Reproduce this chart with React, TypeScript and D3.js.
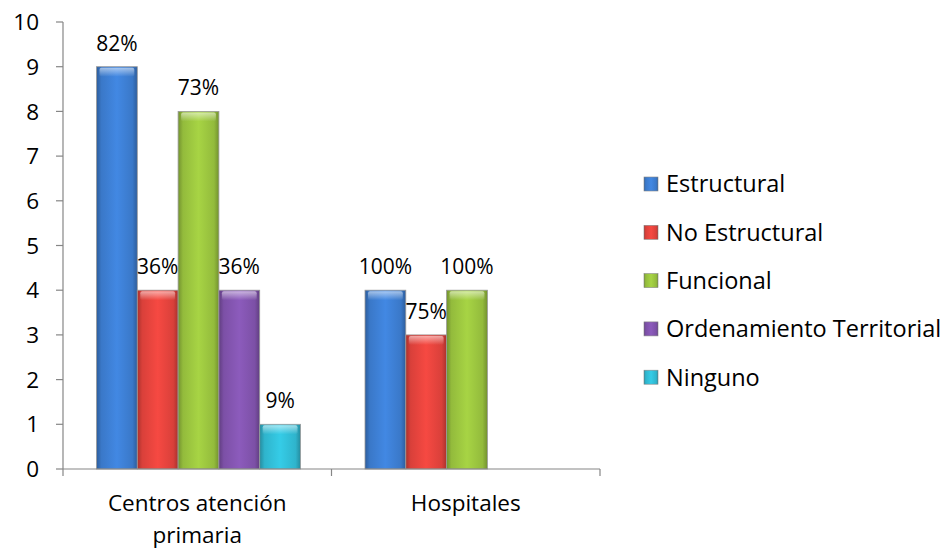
import React, { useMemo } from 'react';
import * as d3 from 'd3';

const W = 948;
const H = 550;
const FONT = '"Open Sans", "Liberation Sans", sans-serif';

const categories = ['Centros atención primaria', 'Hospitales'];
const categoryLines = [['Centros atención', 'primaria'], ['Hospitales']];
const series = ['Estructural', 'No Estructural', 'Funcional', 'Ordenamiento Territorial', 'Ninguno'];
const colors = ['#3a78c8', '#d9403a', '#93bb3c', '#7c50a6', '#2fb4cc'];

// counts per series, one array per category (null = no bar)
const centrosValues = [9, 4, 8, 4, 1];
const hospitalesValues = [4, 3, 4, null, null];
const centrosLabels = ['82%', '36%', '73%', '36%', '9%'];
const hospitalesLabels = ['100%', '75%', '100%', null, null];

const yTicks = [0, 1, 2, 3, 4, 5, 6, 7, 8, 9, 10];

const margin = { left: 63, right: 600, top: 22, bottom: 469 };

export default function App() {
  const x = useMemo(
    () => d3.scaleBand<string>().domain(categories).range([margin.left, margin.right]).padding(0),
    []
  );
  const inner = useMemo(
    () => d3.scaleBand<string>().domain(series).range([33.5, x.bandwidth() - 31]).padding(0),
    [x]
  );
  const y = useMemo(() => d3.scaleLinear().domain([0, 10]).range([margin.bottom, margin.top]), []);

  const values = [centrosValues, hospitalesValues];
  const labels = [centrosLabels, hospitalesLabels];

  return (
    <svg width={W} height={H} style={{ position: 'absolute', left: 0, top: 0 }} fontFamily={FONT}>
      <defs>
        {colors.map((c, i) => {
          const dark = d3.color(c).darker(0.7).formatHex();
          const light = d3.color(c).brighter(0.35).formatHex();
          return (
            <React.Fragment key={i}>
              <linearGradient id={`g${i}`} x1="0" x2="1" y1="0" y2="0">
                <stop offset="0" stopColor={dark} />
                <stop offset="0.12" stopColor={c} />
                <stop offset="0.5" stopColor={light} />
                <stop offset="0.88" stopColor={c} />
                <stop offset="1" stopColor={dark} />
              </linearGradient>
              <linearGradient id={`t${i}`} x1="0" x2="0" y1="0" y2="1">
                <stop offset="0" stopColor="#ffffff" stopOpacity="0.55" />
                <stop offset="1" stopColor="#ffffff" stopOpacity="0" />
              </linearGradient>
            </React.Fragment>
          );
        })}
      </defs>

      {/* bars */}
      {categories.map((cat, ci) =>
        series.map((s, si) => {
          const v = values[ci][si];
          if (v == null) return null;
          const bx = x(cat) + inner(s);
          const bw = inner.bandwidth();
          const by = y(v);
          const bh = y(0) - by;
          return (
            <g key={`${ci}-${si}`}>
              <rect x={bx} y={by} width={bw} height={bh} fill={`url(#g${si})`} stroke="#9a9a9a" strokeWidth={0.8} />
              <rect x={bx + 3} y={by + 1} width={bw - 6} height={Math.min(9, bh - 2)} fill={`url(#t${si})`} rx={2} />
            </g>
          );
        })
      )}

      {/* data labels */}
      {categories.map((cat, ci) =>
        series.map((s, si) => {
          const v = values[ci][si];
          const l = labels[ci][si];
          if (v == null || l == null) return null;
          return (
            <text
              key={`l${ci}-${si}`}
              x={x(cat) + inner(s) + inner.bandwidth() / 2}
              y={y(v) - 16}
              textAnchor="middle"
              fontSize={21}
              fill="#000"
            >
              {l}
            </text>
          );
        })
      )}

      {/* y axis */}
      <line x1={margin.left} x2={margin.left} y1={y(10)} y2={y(0)} stroke="#868686" strokeWidth={1.2} />
      {yTicks.map((t) => (
        <g key={t}>
          <line x1={margin.left - 7} x2={margin.left} y1={y(t)} y2={y(t)} stroke="#868686" strokeWidth={1.2} />
          <text x={margin.left - 24} y={y(t)} dy="0.36em" textAnchor="end" fontSize={22.5} fill="#000">
            {t}
          </text>
        </g>
      ))}

      {/* x axis */}
      <line x1={margin.left} x2={margin.right} y1={y(0)} y2={y(0)} stroke="#868686" strokeWidth={1.2} />
      {[margin.left, ...categories.map((c) => x(c) + x.bandwidth())].map((tx, i) => (
        <line key={i} x1={tx} x2={tx} y1={y(0)} y2={y(0) + 7} stroke="#868686" strokeWidth={1.2} />
      ))}
      {categories.map((cat, ci) =>
        categoryLines[ci].map((line, li) => (
          <text
            key={`c${ci}-${li}`}
            x={x(cat) + x.bandwidth() / 2}
            y={503 + li * 32}
            dy="0.36em"
            textAnchor="middle"
            fontSize={22.5}
            fill="#000"
          >
            {line}
          </text>
        ))
      )}

      {/* legend */}
      {series.map((s, i) => {
        const ly = 184 + i * 48.3;
        return (
          <g key={s}>
            <rect x={644} y={ly - 7} width={14} height={14} fill={`url(#g${i})`} stroke="#888" strokeWidth={0.6} />
            <text x={666} y={ly} dy="0.36em" fontSize={23.5} fill="#000">
              {s}
            </text>
          </g>
        );
      })}
    </svg>
  );
}
